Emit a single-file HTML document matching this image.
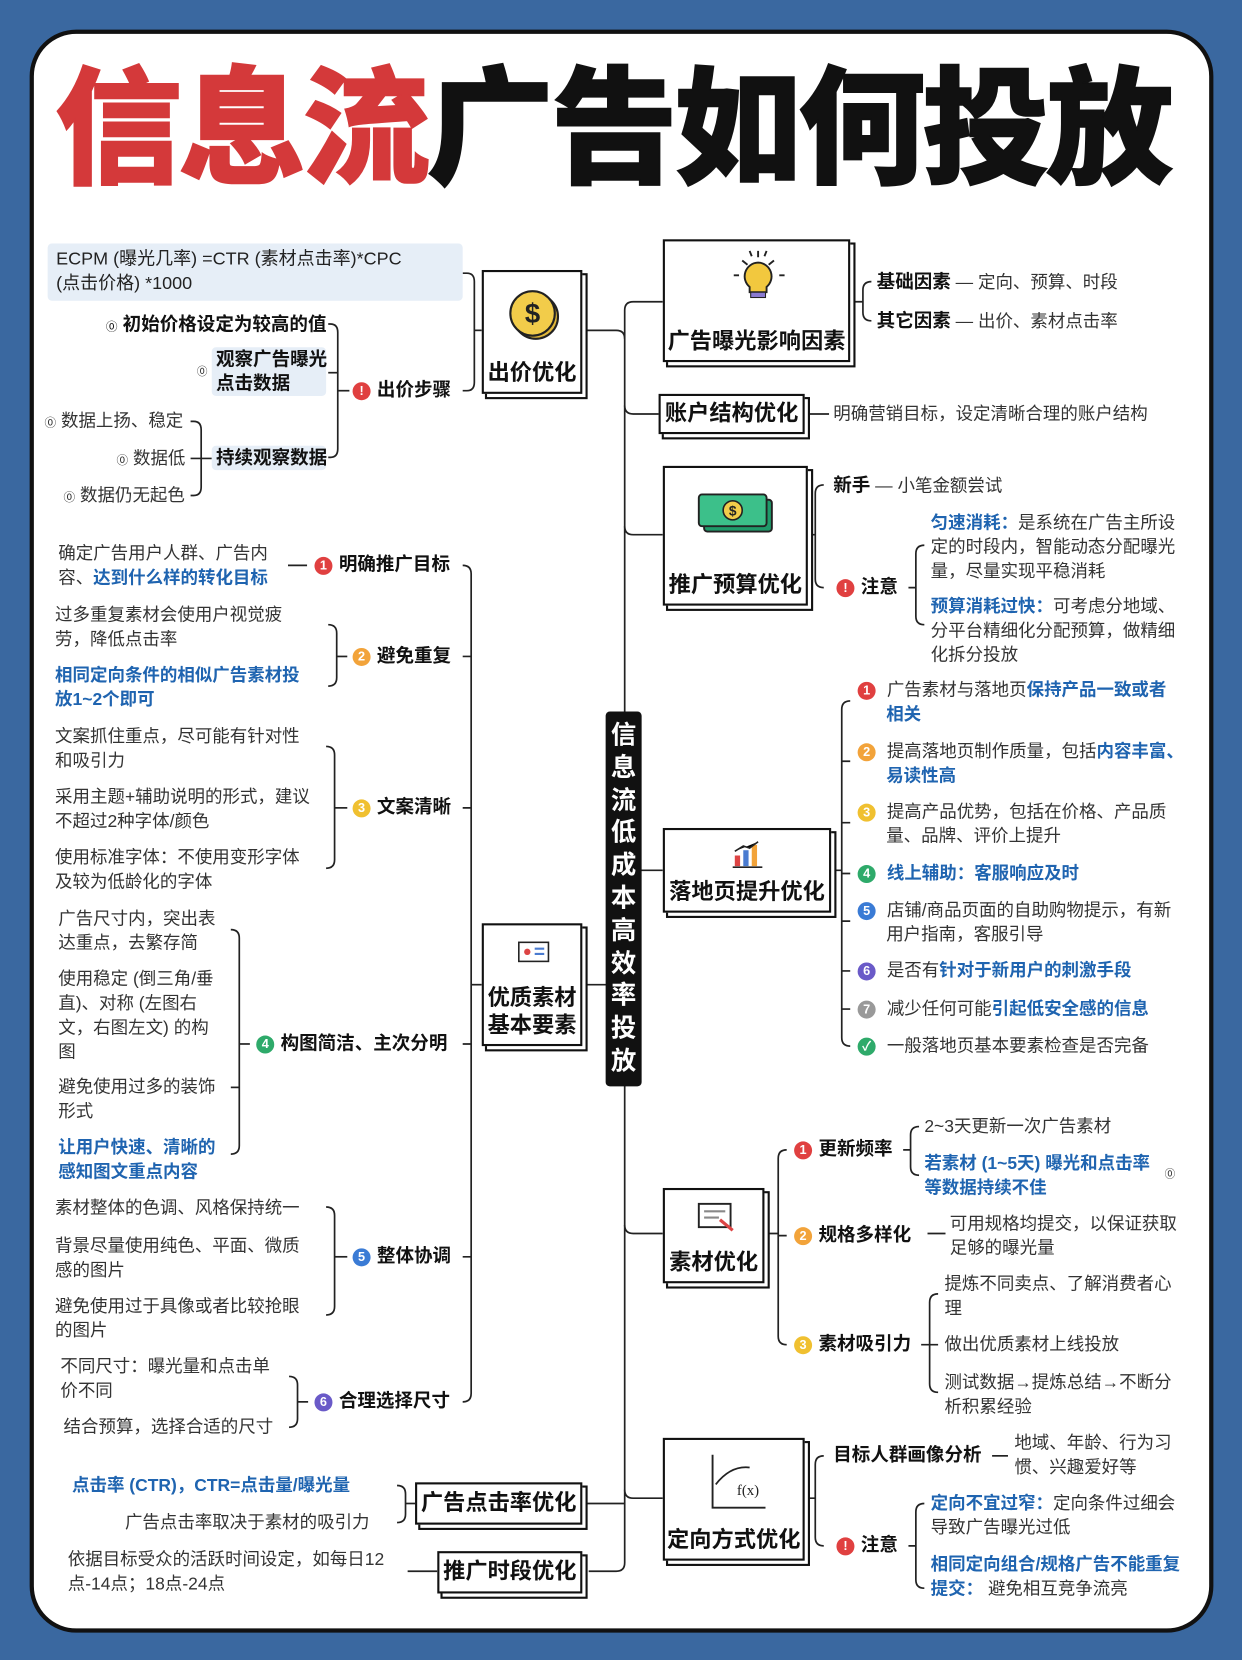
<!DOCTYPE html>
<html><head><meta charset="utf-8">
<style>
*{margin:0;padding:0;box-sizing:border-box}
html,body{width:1242px;height:1660px;overflow:hidden;background:#3a68a0}
#s{position:absolute;left:0;top:0;width:1173px;height:1568px;transform:scale(1.0588);transform-origin:0 0;font-family:"Liberation Sans","Noto Sans CJK SC",sans-serif;color:#222}
.card{position:absolute;left:28px;top:28px;width:1118px;height:1514px;background:#fff;border:4px solid #111;border-radius:44px}
.t{position:absolute;font-size:16.5px;line-height:23px;white-space:nowrap;color:#333}
.b{font-weight:bold;color:#111;font-size:17.5px}
.bl{color:#1f64b0;font-weight:bold}
.hl{background:#e6eef7;border-radius:4px}
.box{position:absolute;background:#fff;border:2px solid #111;box-shadow:4px 4px 0 -1px #fff,4px 4px 0 1px #111}
.bt{position:absolute;left:0;right:0;bottom:4px;text-align:center;font-weight:bold;font-size:21px;line-height:26px;color:#111}
.n{display:inline-block;width:17px;height:17px;border-radius:50%;color:#fff;font-size:12px;line-height:17px;text-align:center;font-weight:bold;vertical-align:1px;margin-right:6px}
svg{position:absolute;left:0;top:0}
</style></head><body><div id="s">
<div class="card"></div>
<div style="position:absolute;left:52px;top:48px;font-size:120px;font-weight:900;line-height:150px;letter-spacing:-3px;white-space:nowrap;-webkit-text-stroke:1.5px currentColor"><span style="color:#d4393a">信息流</span><span style="color:#111">广告如何投放</span></div>

<svg width="1173" height="1568" fill="none" stroke="#222" stroke-width="1.6">
<path d="M626 285 H598 Q590 285 590 293 V1476 Q590 1484 582 1484 H556"/>
<path d="M552 312 H582 Q590 312 590 320"/>
<path d="M552 930 H590"/><path d="M552 1420 H590"/>
<path d="M590 383 Q590 391 598 391 H622"/>
<path d="M590 497 Q590 505 598 505 H626"/>
<path d="M590 822 H626"/>
<path d="M590 1157 Q590 1165 598 1165 H626"/>
<path d="M590 1407 Q590 1415 598 1415 H626"/>
<path d="M437 258 H441 Q448 258 448 266 V361 Q448 369 441 369 H437"/><path d="M448 312 H455"/>
<path d="M310 306 H312 Q319 306 319 314 V424 Q319 432 312 432 H310"/><path d="M319 369 H330"/><path d="M310 352 H319"/>
<path d="M180 398 H183 Q190 398 190 406 V460 Q190 468 183 468 H180"/><path d="M180 433 H200"/>
<path d="M437 534 Q445 534 445 542 V1316 Q445 1324 437 1324"/><path d="M445 930 H455"/>
<path d="M437 620 H445 M437 763 H445 M437 986 H445 M437 1187 H445"/>
<path d="M272 534 H290"/>
<path d="M310 590 Q318 590 318 598 V640 Q318 648 310 648"/><path d="M318 620 H328"/>
<path d="M308 705 Q316 705 316 713 V812 Q316 820 308 820"/><path d="M316 763 H328"/>
<path d="M218 878 Q226 878 226 886 V1082 Q226 1090 218 1090"/><path d="M226 986 H236"/><path d="M218 1027 H226"/>
<path d="M308 1140 Q316 1140 316 1148 V1234 Q316 1242 308 1242"/><path d="M316 1187 H328"/>
<path d="M273 1300 Q281 1300 281 1308 V1340 Q281 1348 273 1348"/><path d="M281 1324 H291"/>
<path d="M375 1403 Q383 1403 383 1411 V1430 Q383 1438 375 1438"/><path d="M383 1420 H392"/>
<path d="M385 1484 H413"/>
<path d="M805 285 H815 M823 266 Q815 266 815 274 V295 Q815 303 823 303"/>
<path d="M760 391 H783"/>
<path d="M763 505 H770 M778 458 Q770 458 770 466 V547 Q770 555 778 555"/>
<path d="M873 515 Q865 515 865 523 V582 Q865 590 873 590 M858 555 H865"/>
<path d="M785 822 H795 M803 662 Q795 662 795 670 V980 Q795 988 803 988"/>
<path d="M795 719 H803 M795 777 H803 M795 825 H803 M795 870 H803 M795 917 H803 M795 953 H803"/>
<path d="M722 1165 H735 M743 1086 Q735 1086 735 1094 V1262 Q735 1270 743 1270 M735 1167 H743"/>
<path d="M868 1064 Q860 1064 860 1072 V1102 Q860 1110 868 1110 M853 1086 H860"/>
<path d="M876 1165 H893"/>
<path d="M886 1222 Q878 1222 878 1230 V1307 Q878 1315 886 1315 M870 1270 H886"/>
<path d="M760 1415 H770 M778 1375 Q770 1375 770 1383 V1452 Q770 1460 778 1460"/>
<path d="M873 1420 Q865 1420 865 1428 V1492 Q865 1500 873 1500 M858 1460 H865"/>
<path d="M937 1375 H952"/>
</svg>

<div style="position:absolute;left:572px;top:672px;width:34px;height:354px;background:#111;border-radius:4px;color:#fff;font-weight:bold;font-size:24px;line-height:30.8px;text-align:center;padding-top:8px">信<br>息<br>流<br>低<br>成<br>本<br>高<br>效<br>率<br>投<br>放</div>

<div class="box" style="left:455px;top:255px;width:95px;height:117px">
<svg width="95" height="80" style="left:0;top:0"><circle cx="49" cy="42" r="21" fill="#e2b83a" stroke="#222" stroke-width="2"/><circle cx="46" cy="39" r="21" fill="#f2cc4a" stroke="#222" stroke-width="2"/><text x="46" y="48" text-anchor="middle" font-size="26" font-weight="bold" fill="#222" stroke="none" font-family="Liberation Sans">$</text></svg>
<div class="bt">出价优化</div></div>
<div class="box" style="left:455px;top:872px;width:95px;height:116px">
<svg width="95" height="40"><rect x="33" y="16" width="28" height="18" fill="#fff" stroke="#222" stroke-width="1.5"/><circle cx="41" cy="25" r="3" fill="#d44"/><path d="M48 22h9M48 27h9" stroke="#4a7bd0" stroke-width="2"/></svg>
<div class="bt" style="line-height:26px">优质素材<br>基本要素</div></div>
<div class="box" style="left:392px;top:1400px;width:158px;height:40px"><div class="bt" style="bottom:5px">广告点击率优化</div></div>
<div class="box" style="left:413px;top:1465px;width:137px;height:40px"><div class="bt" style="bottom:5px">推广时段优化</div></div>

<div class="box" style="left:626px;top:226px;width:177px;height:116px">
<svg width="177" height="70"><path d="M78 22l-5-4M88 15v-6M98 22l5-4M70 32h-5M108 32h5M82 14l-2-5M94 14l2-5" stroke="#222" stroke-width="1.8"/><path d="M88 20a13 13 0 0 0-8 23v5h16v-5a13 13 0 0 0-8-23z" fill="#f2c83e" stroke="#222" stroke-width="1.8"/><rect x="81" y="48" width="14" height="5" fill="#8a7ad0" stroke="#222"/></svg>
<div class="bt">广告曝光影响因素</div></div>
<div class="box" style="left:622px;top:372px;width:138px;height:38px"><div class="bt" style="bottom:4px">账户结构优化</div></div>
<div class="box" style="left:626px;top:440px;width:137px;height:132px">
<svg width="137" height="80"><rect x="37" y="30" width="64" height="30" rx="3" fill="#1f9a6a" stroke="#222" stroke-width="1.8"/><rect x="32" y="25" width="64" height="30" rx="3" fill="#3cc08a" stroke="#222" stroke-width="1.8"/><circle cx="64" cy="40" r="9" fill="#f2cc4a" stroke="#222" stroke-width="1.5"/><text x="64" y="45" text-anchor="middle" font-size="13" font-weight="bold" fill="#222" stroke="none">$</text></svg>
<div class="bt">推广预算优化</div></div>
<div class="box" style="left:626px;top:782px;width:159px;height:80px">
<svg width="159" height="40"><rect x="66" y="24" width="5" height="10" fill="#d44"/><rect x="74" y="19" width="5" height="15" fill="#4a7bd0"/><rect x="82" y="14" width="5" height="20" fill="#f2a33a"/><path d="M64 35h28M66 20l8-5 6 2 8-6" stroke="#222" stroke-width="1.5"/></svg>
<div class="bt">落地页提升优化</div></div>
<div class="box" style="left:626px;top:1122px;width:96px;height:90px">
<svg width="96" height="50"><rect x="32" y="13" width="30" height="22" fill="#fff" stroke="#222" stroke-width="1.8"/><path d="M37 20h20M37 26h14" stroke="#888" stroke-width="2"/><path d="M52 28l12 10" stroke="#d44" stroke-width="3"/></svg>
<div class="bt">素材优化</div></div>
<div class="box" style="left:626px;top:1358px;width:134px;height:116px">
<svg width="134" height="75"><path d="M45 14v50h50" stroke="#222" stroke-width="1.8" fill="none"/><path d="M48 42q14-18 32-16" stroke="#222" stroke-width="1.6" fill="none"/><text x="68" y="52" font-size="14" fill="#222" stroke="none" font-family="Liberation Serif">f(x)</text></svg>
<div class="bt">定向方式优化</div></div>

<div class="t hl" style="left:45px;top:230px;width:392px;height:54px;padding:3px 8px;color:#222;font-size:17px">ECPM (曝光几率) =CTR (素材点击率)*CPC<br>(点击价格) *1000</div>
<div class="t b" style="left:100px;top:295px"><span style="font-size:11px;font-weight:normal">⓪</span> 初始价格设定为较高的值</div>
<div class="t b hl" style="left:200px;top:328px;width:108px;padding-left:4px">观察广告曝光<br>点击数据</div>
<div class="t" style="left:186px;top:340px;font-size:10px">⓪</div>
<div class="t b" style="left:333px;top:357px"><span class="n" style="background:#e04040">!</span>出价步骤</div>
<div class="t" style="left:42px;top:387px"><span style="font-size:11px">⓪</span> 数据上扬、稳定</div>
<div class="t" style="left:110px;top:422px"><span style="font-size:11px">⓪</span> 数据低</div>
<div class="t b hl" style="left:200px;top:421px;width:108px;padding-left:4px">持续观察数据</div>
<div class="t" style="left:60px;top:457px"><span style="font-size:11px">⓪</span> 数据仍无起色</div>

<div class="t" style="left:55px;top:512px">确定广告用户人群、广告内<br>容、<span class="bl">达到什么样的转化目标</span></div>
<div class="t b" style="left:297px;top:522px"><span class="n" style="background:#e04040">1</span>明确推广目标</div>
<div class="t" style="left:52px;top:570px">过多重复素材会使用户视觉疲<br>劳，降低点击率</div>
<div class="t bl" style="left:52px;top:627px">相同定向条件的相似广告素材投<br>放1~2个即可</div>
<div class="t b" style="left:333px;top:608px"><span class="n" style="background:#f2a33a">2</span>避免重复</div>
<div class="t" style="left:52px;top:685px">文案抓住重点，尽可能有针对性<br>和吸引力</div>
<div class="t" style="left:52px;top:742px">采用主题+辅助说明的形式，建议<br>不超过2种字体/颜色</div>
<div class="t" style="left:52px;top:799px">使用标准字体：不使用变形字体<br>及较为低龄化的字体</div>
<div class="t b" style="left:333px;top:751px"><span class="n" style="background:#f0c030">3</span>文案清晰</div>
<div class="t" style="left:55px;top:857px">广告尺寸内，突出表<br>达重点，去繁存简</div>
<div class="t" style="left:55px;top:914px">使用稳定 (倒三角/垂<br>直)、对称 (左图右<br>文，右图左文) 的构<br>图</div>
<div class="t" style="left:55px;top:1016px">避免使用过多的装饰<br>形式</div>
<div class="t bl" style="left:55px;top:1073px">让用户快速、清晰的<br>感知图文重点内容</div>
<div class="t b" style="left:242px;top:974px"><span class="n" style="background:#2eaa6a">4</span>构图简洁、主次分明</div>
<div class="t" style="left:52px;top:1130px">素材整体的色调、风格保持统一</div>
<div class="t" style="left:52px;top:1166px">背景尽量使用纯色、平面、微质<br>感的图片</div>
<div class="t" style="left:52px;top:1223px">避免使用过于具像或者比较抢眼<br>的图片</div>
<div class="t b" style="left:333px;top:1175px"><span class="n" style="background:#3a7bd5">5</span>整体协调</div>
<div class="t" style="left:57px;top:1280px">不同尺寸：曝光量和点击单<br>价不同</div>
<div class="t" style="left:60px;top:1337px">结合预算，选择合适的尺寸</div>
<div class="t b" style="left:297px;top:1312px"><span class="n" style="background:#6a5ac8">6</span>合理选择尺寸</div>
<div class="t bl" style="left:68px;top:1392px">点击率 (CTR)，CTR=点击量/曝光量</div>
<div class="t" style="left:118px;top:1427px">广告点击率取决于素材的吸引力</div>
<div class="t" style="left:64px;top:1462px">依据目标受众的活跃时间设定，如每日12<br>点-14点；18点-24点</div>

<div class="t" style="left:828px;top:255px"><span class="b">基础因素</span> — 定向、预算、时段</div>
<div class="t" style="left:828px;top:292px"><span class="b">其它因素</span> — 出价、素材点击率</div>
<div class="t" style="left:787px;top:380px">明确营销目标，设定清晰合理的账户结构</div>
<div class="t" style="left:787px;top:447px"><span class="b">新手</span> — 小笔金额尝试</div>
<div class="t b" style="left:790px;top:543px"><span class="n" style="background:#e04040">!</span>注意</div>
<div class="t" style="left:879px;top:483px"><span class="bl">匀速消耗：</span>是系统在广告主所设<br>定的时段内，智能动态分配曝光<br>量，尽量实现平稳消耗</div>
<div class="t" style="left:879px;top:562px"><span class="bl">预算消耗过快：</span>可考虑分地域、<br>分平台精细化分配预算，做精细<br>化拆分投放</div>

<div class="t" style="left:810px;top:641px"><span class="n" style="background:#e04040">1</span> 广告素材与落地页<span class="bl">保持产品一致或者</span><br><span style="padding-left:27px" class="bl">相关</span></div>
<div class="t" style="left:810px;top:699px"><span class="n" style="background:#f2a33a">2</span> 提高落地页制作质量，包括<span class="bl">内容丰富、</span><br><span style="padding-left:27px" class="bl">易读性高</span></div>
<div class="t" style="left:810px;top:756px"><span class="n" style="background:#f0c030">3</span> 提高产品优势，包括在价格、产品质<br><span style="padding-left:27px">量、品牌、评价上提升</span></div>
<div class="t" style="left:810px;top:814px"><span class="n" style="background:#2eaa6a">4</span> <span class="bl">线上辅助：客服响应及时</span></div>
<div class="t" style="left:810px;top:849px"><span class="n" style="background:#3a7bd5">5</span> 店铺/商品页面的自助购物提示，有新<br><span style="padding-left:27px">用户指南，客服引导</span></div>
<div class="t" style="left:810px;top:906px"><span class="n" style="background:#6a5ac8">6</span> 是否有<span class="bl">针对于新用户的刺激手段</span></div>
<div class="t" style="left:810px;top:942px"><span class="n" style="background:#999">7</span> 减少任何可能<span class="bl">引起低安全感的信息</span></div>
<div class="t" style="left:810px;top:977px"><span class="n" style="background:#2eaa6a">✓</span> 一般落地页基本要素检查是否完备</div>

<div class="t b" style="left:750px;top:1074px"><span class="n" style="background:#e04040">1</span>更新频率</div>
<div class="t b" style="left:750px;top:1155px"><span class="n" style="background:#f2a33a">2</span>规格多样化</div>
<div class="t b" style="left:750px;top:1258px"><span class="n" style="background:#f0c030">3</span>素材吸引力</div>
<div class="t" style="left:873px;top:1053px">2~3天更新一次广告素材</div>
<div class="t bl" style="left:873px;top:1088px">若素材 (1~5天) 曝光和点击率<br>等数据持续不佳</div>
<div class="t" style="left:1100px;top:1098px;font-size:10px">⓪</div>
<div class="t" style="left:897px;top:1145px">可用规格均提交，以保证获取<br>足够的曝光量</div>
<div class="t" style="left:892px;top:1202px">提炼不同卖点、了解消费者心<br>理</div>
<div class="t" style="left:892px;top:1259px">做出优质素材上线投放</div>
<div class="t" style="left:892px;top:1295px">测试数据→提炼总结→不断分<br>析积累经验</div>

<div class="t b" style="left:787px;top:1363px">目标人群画像分析</div>
<div class="t" style="left:958px;top:1352px">地域、年龄、行为习<br>惯、兴趣爱好等</div>
<div class="t b" style="left:790px;top:1448px"><span class="n" style="background:#e04040">!</span>注意</div>
<div class="t" style="left:879px;top:1409px"><span class="bl">定向不宜过窄：</span>定向条件过细会<br>导致广告曝光过低</div>
<div class="t" style="left:879px;top:1467px"><span class="bl">相同定向组合/规格广告不能重复<br>提交：</span> 避免相互竞争流亮</div>
</div></body></html>
